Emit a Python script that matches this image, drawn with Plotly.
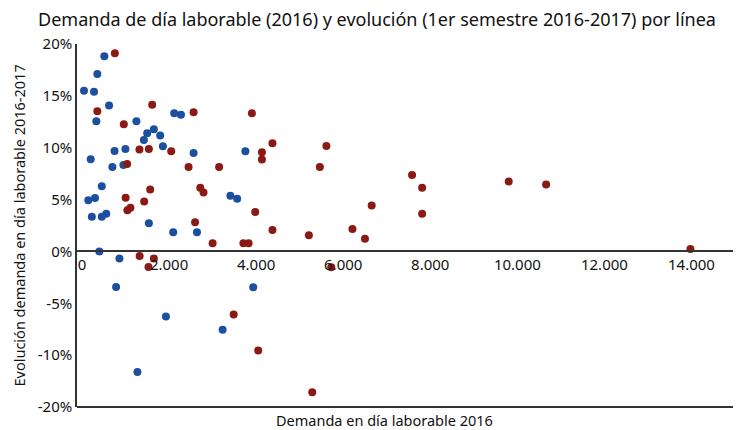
import plotly.graph_objects as go

# Demanda en día laborable 2016 (x) y evolución 2016-2017 en % (y)
blue_demand = [513, 352, 46, 276, 622, 329, 1250, 1651, 1497, 1796, 1421, 1858, 2118, 2273,
               2563, 748, 997, 200, 698, 951, 3753, 454, 145, 299, 226, 454, 557, 1536, 2095,
               2641, 3408, 3564, 398, 859, 783, 3933, 1927, 3230, 1273]
blue_evol = [18.83, 17.10, 15.50, 15.40, 14.06, 12.55, 12.55, 11.78, 11.39, 11.17, 10.75, 10.14,
             13.32, 13.19, 9.50, 9.68, 9.88, 8.89, 8.14, 8.34, 9.66, 6.28, 4.93, 5.16, 3.35, 3.35,
             3.63, 2.72, 1.86, 1.86, 5.37, 5.07, 0.0, -0.67, -3.44, -3.46, -6.27, -7.55, -11.62]

red_demand = [755, 352, 1612, 960, 1319, 1536, 2049, 1036, 1566, 1002, 1043, 1112, 1428, 1324,
              1651, 1527, 2563, 3903, 2448, 3150, 2597, 2717, 2791, 3000, 3707, 3827, 3979, 4133,
              4133, 4375, 5614, 5464, 7582, 7813, 7813, 6654, 4375, 5211, 6212, 6500, 5726, 9802,
              10661, 13976, 3484, 4048, 5289]
red_evol = [19.12, 13.51, 14.15, 12.26, 9.83, 9.88, 9.66, 8.44, 5.96, 5.17, 3.96, 4.21, 4.81, -0.45,
            -0.67, -1.49, 13.41, 13.32, 8.14, 8.14, 2.81, 6.15, 5.69, 0.80, 0.79, 0.79, 3.80, 9.57,
            8.87, 10.43, 10.17, 8.15, 7.38, 6.13, 3.63, 4.44, 2.07, 1.56, 2.16, 1.23, -1.52, 6.75,
            6.46, 0.24, -6.08, -9.55, -13.58]

x_tickvals = [0, 2000, 4000, 6000, 8000, 10000, 12000, 14000]
x_ticktext = ["0", "2.000", "4.000", "6.000", "8.000", "10.000", "12.000", "14.000"]
y_tickvals = [-15, -10, -5, 0, 5, 10, 15, 20]
y_ticktext = ["-20%", "-10%", "-5%", "0%", "5%", "10%", "15%", "20%"]

TITLE = "Demanda de día laborable (2016) y evolución (1er semestre 2016-2017) por línea"
X_TITLE = "Demanda en día laborable 2016"
Y_TITLE = "Evolución demanda en día laborable 2016-2017"

FONT = "Noto Sans"
AXIS_COLOR = "#333333"
TXT = "#111111"

# the page body adds an 8px offset; the figure is sized to fit the window
OFF = 8
W, H = 741 - OFF, 430 - OFF
L, T = 77 - OFF, 43.5 - OFF
PLOT_R, PLOT_B = 735 - OFF, 407.5 - OFF
PW, PH = PLOT_R - L, PLOT_B - T

fig = go.Figure()
fig.add_trace(go.Scatter(x=blue_demand, y=blue_evol, mode="markers",
                         marker=dict(color="#1d4fa0", size=8), name="A", showlegend=False))
fig.add_trace(go.Scatter(x=red_demand, y=red_evol, mode="markers",
                         marker=dict(color="#8c1a14", size=8), name="B", showlegend=False))

y_min, y_max = -15, 20
fig.update_layout(
    width=W, height=H,
    margin=dict(l=L, r=W - PLOT_R, t=T, b=H - PLOT_B, autoexpand=False),
    plot_bgcolor="white", paper_bgcolor="white",
    font=dict(family=FONT, color=TXT),
    title=dict(text=TITLE, x=(377 - OFF) / W, xanchor="center", y=1 - (20 - OFF) / H,
               yanchor="middle", font=dict(family=FONT, size=18, color=TXT)),
    xaxis=dict(range=[-115, 15000], anchor="free", position=(0 - y_min) / (y_max - y_min),
               showline=True, linecolor=AXIS_COLOR, linewidth=2, showgrid=False, zeroline=False,
               tickmode="array", tickvals=x_tickvals, ticktext=x_ticktext, ticks="",
               tickfont=dict(family=FONT, size=15, color=TXT)),
    yaxis=dict(range=[y_min, y_max], showline=True, linecolor=AXIS_COLOR, linewidth=1.5,
               showgrid=False, zeroline=False, tickmode="array", tickvals=y_tickvals,
               ticktext=y_ticktext, ticks="",
               tickfont=dict(family=FONT, size=15, color=TXT)),
    shapes=[dict(type="line", xref="paper", yref="paper", x0=0, x1=1, y0=0, y1=0,
                 line=dict(color=AXIS_COLOR, width=2))],
    annotations=[
        dict(text=X_TITLE, xref="paper", yref="paper", x=(384 - 77) / PW, y=-(421 - 407.5) / PH,
             xanchor="center", yanchor="middle", showarrow=False,
             font=dict(family=FONT, size=14.5, color=TXT)),
        dict(text=Y_TITLE, xref="paper", yref="paper", x=-(77 - 18) / PW, y=0.5,
             xanchor="center", yanchor="middle", textangle=-90, showarrow=False,
             font=dict(family=FONT, size=14.5, color=TXT)),
    ],
)
fig.write_html("out.html")
